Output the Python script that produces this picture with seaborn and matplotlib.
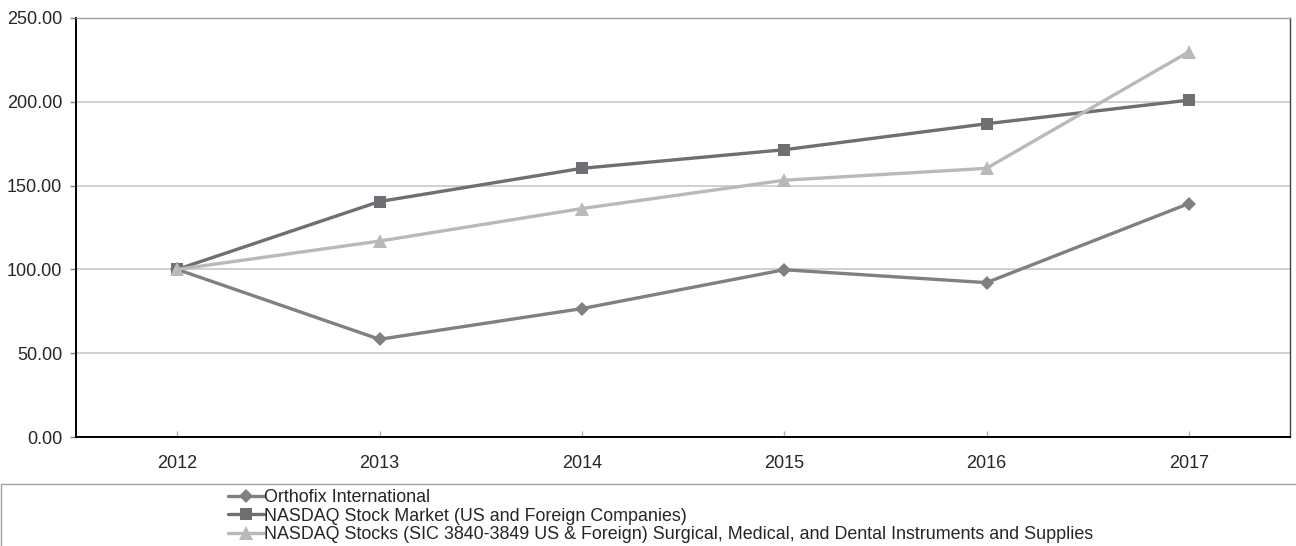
import numpy as np
import pandas as pd
import matplotlib.pyplot as plt
import seaborn as sns
from matplotlib.patches import Rectangle

years = ['2012', '2013', '2014', '2015', '2016', '2017']
orthofix = [100.0, 58.3, 76.6, 99.8, 92.1, 139.3]
nasdaq = [100.0, 140.5, 160.3, 171.4, 186.9, 201.0]
surgical = [100.0, 116.9, 136.3, 153.2, 160.3, 229.8]
names = ['Orthofix International',
         'NASDAQ Stock Market (US and Foreign Companies)',
         'NASDAQ Stocks (SIC 3840-3849 US & Foreign) Surgical, Medical, and Dental Instruments and Supplies']
yticks = [0, 50, 100, 150, 200, 250]

df = pd.DataFrame({
    'year': years * 3,
    'value': orthofix + nasdaq + surgical,
    'series': [names[0]] * 6 + [names[1]] * 6 + [names[2]] * 6,
})

sns.set_style('white')
plt.rcParams['font.family'] = ['Liberation Sans', 'DejaVu Sans']

fig = plt.figure(figsize=(12.96, 5.46), dpi=100)
ax = fig.add_axes([76 / 1296, 1 - 437 / 546, (1290 - 76) / 1296, (437 - 18) / 546])

colors = {names[0]: '#808080', names[1]: '#6e6e73', names[2]: '#b9b9bb'}
marks = {names[0]: 'D', names[1]: 's', names[2]: '^'}
sizes = {names[0]: 7.5, names[1]: 8.5, names[2]: 10}

for n in names:
    sub = df[df['series'] == n]
    sns.lineplot(data=sub, x='year', y='value', ax=ax, color=colors[n],
                 marker=marks[n], markersize=sizes[n], markeredgewidth=0,
                 linewidth=2.4, label=n, sort=False)

ax.set_xlim(-0.5, 5.5)
ax.set_ylim(0, 250)
ax.set_yticks(yticks)
ax.set_yticklabels(['%.2f' % v for v in yticks])
ax.set_xlabel('')
ax.set_ylabel('')
ax.yaxis.grid(True, color='#c8c8c8', linewidth=1.2)
ax.set_axisbelow(True)
ax.tick_params(axis='y', which='major', left=True, length=4, width=1, color='#808080',
               labelsize=13, pad=6)
ax.tick_params(axis='x', which='major', bottom=True, direction='in', length=4, width=1,
               color='#b0b0b0', labelsize=13, pad=13)
for s in ['left', 'bottom']:
    ax.spines[s].set_color('#000000')
    ax.spines[s].set_linewidth(1.4)
ax.spines['top'].set_color('#a0a0a0')
ax.spines['right'].set_color('#404040')
ax.spines['top'].set_linewidth(1.0)
ax.spines['right'].set_linewidth(1.0)

ax.get_legend().remove()
h, l = ax.get_legend_handles_labels()

fig.patches.append(Rectangle((0.0005, -0.01), 1.02, (546 - 484) / 546 + 0.01,
                             transform=fig.transFigure, fill=False,
                             edgecolor='#a0a0a0', linewidth=1.0))
fig.legend(h, l, loc='upper left', bbox_to_anchor=(228 / 1296, 1 - 489 / 546),
           frameon=False, fontsize=12.9, handlelength=2.0, handletextpad=0.0,
           labelspacing=0.09, borderpad=0, borderaxespad=0)

fig.savefig('out.png', dpi=100)
